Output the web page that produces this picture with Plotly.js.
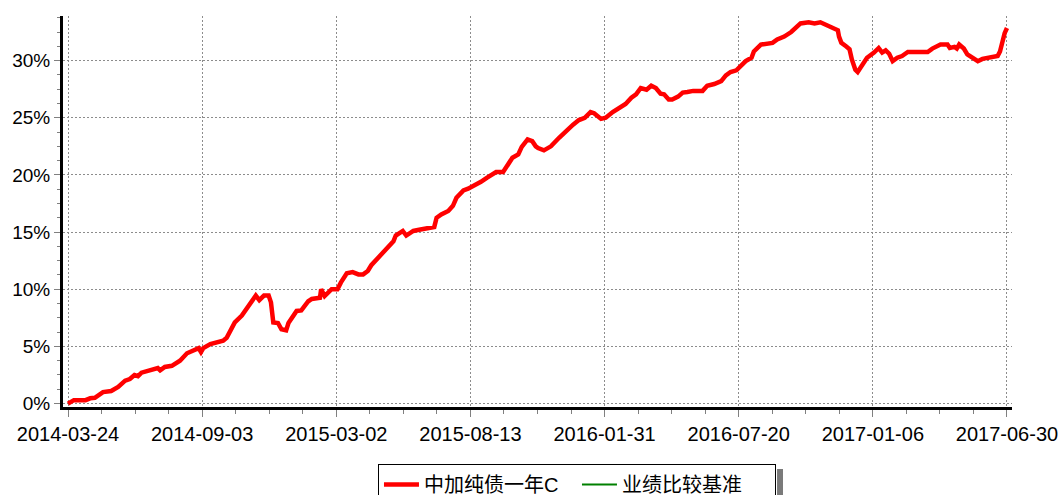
<!DOCTYPE html>
<html>
<head>
<meta charset="utf-8">
<script src="https://cdn.plot.ly/plotly-3.0.1.min.js"></script>
<style>
html,body{margin:0;padding:0;background:#fff;}
#chart{width:1060px;height:495px;}
</style>
</head>
<body>
<div id="chart"></div>
<script>
// trading-day index along the x axis and cumulative return (%)
var dayIndex = [0,5,15,19,23,30,37,43,49,53,57,60,63,69,75,77,79,83,89,93,96,102,107,112,114,116,122,127,133,136,139,143,149,153,157,161,164,168,172,174,176,180,183,187,189,196,200,206,209,216,217,220,226,231,234,239,244,249,253,257,260,266,273,279,281,287,290,296,301,309,314,316,320,326,330,333,339,343,347,350,354,359,363,367,373,377,381,386,389,394,398,401,403,408,414,421,428,433,438,443,448,451,457,461,467,473,478,483,487,491,496,500,504,508,511,515,518,523,527,531,536,544,548,554,560,564,568,573,576,581,586,588,594,601,604,608,614,620,624,628,635,640,645,650,654,660,661,663,667,670,672,675,677,681,685,691,695,698,701,704,707,711,715,720,737,741,748,754,756,760,762,764,768,771,775,780,784,790,797,799,801,803,805];
var fundReturn = [0.0,0.3,0.3,0.46,0.5,1.0,1.1,1.45,2.0,2.15,2.5,2.4,2.7,2.9,3.0,3.1,2.9,3.2,3.3,3.55,3.75,4.4,4.65,4.85,4.5,4.85,5.2,5.35,5.5,5.75,6.4,7.1,7.7,8.3,8.85,9.45,9.05,9.45,9.45,8.85,7.1,7.05,6.5,6.4,7.05,8.1,8.15,8.95,9.15,9.25,10.0,9.4,10.0,10.0,10.6,11.4,11.5,11.3,11.3,11.6,12.1,12.75,13.5,14.2,14.7,15.1,14.7,15.1,15.2,15.3,15.45,16.25,16.55,16.85,17.3,18.0,18.65,18.8,19.0,19.25,19.4,19.75,19.95,20.25,20.25,20.8,21.5,21.8,22.45,23.1,22.95,22.5,22.35,22.15,22.5,23.25,23.95,24.4,24.8,25.0,25.5,25.4,24.9,25.0,25.5,25.9,26.2,26.75,27.05,27.6,27.45,27.8,27.6,27.1,27.05,26.6,26.6,26.85,27.2,27.25,27.35,27.35,27.8,27.95,28.2,28.7,29.0,29.15,29.5,29.95,30.25,30.8,31.4,31.5,31.55,31.85,32.1,32.5,32.9,33.25,33.35,33.25,33.35,33.15,32.9,32.65,32.1,31.55,31.25,31.0,30.1,29.2,29.0,29.7,30.25,30.7,31.1,30.7,30.9,30.6,29.95,30.25,30.4,30.75,30.75,31.05,31.4,31.4,31.1,31.2,31.05,31.4,31.05,30.55,30.25,29.95,30.15,30.25,30.4,30.8,31.7,32.4,32.85];
// benchmark series: listed in the legend, no values visible in the chart
var benchIndex = [null];
var benchReturn = [null];
var tickIndex = [0,115,230,345,460,575,690,805];
var tickLabels = ["2014-03-24","2014-09-03","2015-03-02","2015-08-13","2016-01-31","2016-07-20","2017-01-06","2017-06-30"];
var yTicks = [0,5,10,15,20,25,30];
var yTickLabels = ["0%","5%","10%","15%","20%","25%","30%"];
var seriesNames = ["中加纯债一年C","业绩比较基准"];

var FONT = "Liberation Sans, Arial, Noto Sans CJK SC, sans-serif";

var traces = [
  {x: dayIndex, y: fundReturn, type:'scatter', mode:'lines', name: seriesNames[0],
   line:{color:'#ff0000', width:4.5}},
  {x: benchIndex, y: benchReturn, type:'scatter', mode:'lines', name: seriesNames[1],
   line:{color:'#008000', width:2}, showlegend:true}
];

var layout = {
  width:1060, height:495,
  margin:{l:63, r:48, t:16, b:88, autoexpand:false},
  paper_bgcolor:'#ffffff', plot_bgcolor:'#ffffff',
  font:{family:FONT, size:19, color:'#000'},
  showlegend:true,
  hovermode:false,
  xaxis:{
    range:[-4.3, 809.3],
    tickmode:'array', tickvals:tickIndex, ticktext:tickLabels,
    showline:true, linecolor:'#000', linewidth:3,
    ticks:'outside', ticklen:7, tickcolor:'#808080', tickwidth:1,
    showgrid:true, gridcolor:'#8c8c8c', griddash:'2px,2px', gridwidth:1,
    zeroline:false, automargin:false,
    tickfont:{size:20, family:FONT},
    minor:{tickmode:'linear', tick0:0, dtick:28.75, ticks:'outside', ticklen:4, tickcolor:'#808080', showgrid:false}
  },
  yaxis:{
    range:[-0.3, 33.9],
    tickmode:'array', tickvals:yTicks, ticktext:yTickLabels,
    showline:true, linecolor:'#000', linewidth:3,
    ticks:'outside', ticklen:6, tickcolor:'#808080', tickwidth:1,
    showgrid:true, gridcolor:'#8c8c8c', griddash:'2px,2px', gridwidth:1,
    zeroline:false, automargin:false,
    tickfont:{size:19, family:FONT},
    minor:{tickmode:'linear', tick0:0, dtick:1.25, ticks:'outside', ticklen:3, tickcolor:'#808080', showgrid:false}
  },
  legend:{
    orientation:'h', x:0.3319, xanchor:'left',
    yref:'container', y:0.0626, yanchor:'top',
    bordercolor:'#000', borderwidth:1, bgcolor:'#fff',
    font:{size:20, family:FONT},
    itemwidth:35, entrywidth:148, entrywidthmode:'pixels', tracegroupgap:0
  },
  shapes:[
    {type:'rect', xref:'paper', yref:'paper', x0:0.7524, x1:0.7587, y0:-0.1586, y1:-0.24,
     fillcolor:'#7a7a7a', line:{width:0}, layer:'above'}
  ]
};

Plotly.newPlot('chart', traces, layout, {displayModeBar:false, staticPlot:true});
</script>
</body>
</html>
